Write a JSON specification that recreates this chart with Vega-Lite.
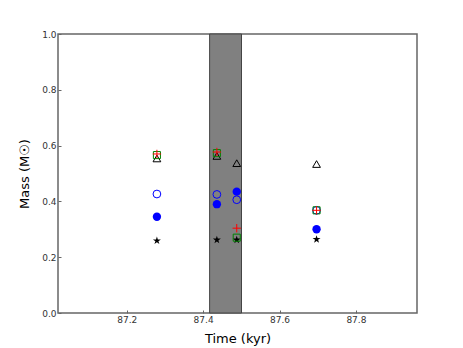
{
  "$schema": "https://vega.github.io/schema/vega-lite/v6.json",
  "width": 359,
  "height": 279,
  "autosize": {"type": "none"},
  "padding": {"left": 58, "top": 34, "right": 46, "bottom": 35},
  "background": "white",
  "config": {
    "font": "DejaVu Sans",
    "view": {"stroke": "#666", "strokeWidth": 1.5},
    "axis": {
      "domain": false,
      "grid": false,
      "tickColor": "#666",
      "tickSize": -3,
      "labelFont": "DejaVu Sans",
      "labelFontSize": 9,
      "labelColor": "#333",
      "titleFont": "DejaVu Sans",
      "titleFontSize": 13,
      "titleFontWeight": "normal",
      "titleColor": "#000"
    }
  },
  "datasets": {
    "band": [{"t0": 87.417, "t1": 87.5005, "m0": 0, "m1": 1}],
    "pts": [
      {"series": "star", "t": 87.279, "mass": 0.259},
      {"series": "star", "t": 87.436, "mass": 0.262},
      {"series": "star", "t": 87.488, "mass": 0.262},
      {"series": "star", "t": 87.697, "mass": 0.264},
      {"series": "filled", "t": 87.279, "mass": 0.345},
      {"series": "filled", "t": 87.436, "mass": 0.39},
      {"series": "filled", "t": 87.488, "mass": 0.435},
      {"series": "filled", "t": 87.697, "mass": 0.30},
      {"series": "open", "t": 87.279, "mass": 0.4265},
      {"series": "open", "t": 87.436, "mass": 0.425},
      {"series": "open", "t": 87.488, "mass": 0.406},
      {"series": "open", "t": 87.697, "mass": 0.368},
      {"series": "triangle", "t": 87.279, "mass": 0.554},
      {"series": "triangle", "t": 87.436, "mass": 0.563},
      {"series": "triangle", "t": 87.488, "mass": 0.537},
      {"series": "triangle", "t": 87.697, "mass": 0.534},
      {"series": "square", "t": 87.279, "mass": 0.566},
      {"series": "square", "t": 87.436, "mass": 0.573},
      {"series": "square", "t": 87.488, "mass": 0.27},
      {"series": "square", "t": 87.697, "mass": 0.368},
      {"series": "plus", "t": 87.279, "mass": 0.57},
      {"series": "plus", "t": 87.436, "mass": 0.577},
      {"series": "plus", "t": 87.488, "mass": 0.304},
      {"series": "plus", "t": 87.697, "mass": 0.368}
    ]
  },
  "layer": [
    {
      "data": {"name": "band"},
      "mark": {"type": "rect", "fill": "#808080", "stroke": "#444", "strokeWidth": 1},
      "encoding": {
        "x": {"field": "t0", "type": "quantitative", "scale": {"domain": [87.02, 87.96], "zero": false, "nice": false}, "title": "Time (kyr)",
              "axis": {"values": [87.2, 87.4, 87.6, 87.8], "format": ".1f", "labelPadding": 5, "titlePadding": 8}},
        "x2": {"field": "t1"},
        "y": {"field": "m0", "type": "quantitative", "scale": {"domain": [0, 1], "nice": false}, "title": "Mass (M☉)",
              "axis": {"values": [0, 0.2, 0.4, 0.6, 0.8, 1.0], "format": ".1f", "labelPadding": 5, "titlePadding": 10}},
        "y2": {"field": "m1"}
      }
    },
    {
      "data": {"name": "pts"},
      "transform": [{"filter": "datum.series === 'star'"}],
      "mark": {"type": "point", "filled": true, "color": "black", "opacity": 1, "size": 70,
               "shape": "M0,-1L0.225,-0.309L0.951,-0.309L0.363,0.118L0.588,0.809L0,0.382L-0.588,0.809L-0.363,0.118L-0.951,-0.309L-0.225,-0.309Z"},
      "encoding": {
        "x": {"field": "t", "type": "quantitative", "title": "Time (kyr)"},
        "y": {"field": "mass", "type": "quantitative", "title": "Mass (M☉)"}
      }
    },
    {
      "data": {"name": "pts"},
      "transform": [{"filter": "datum.series === 'filled'"}],
      "mark": {"type": "point", "filled": true, "color": "#0000ff", "opacity": 1, "size": 70, "shape": "circle"},
      "encoding": {
        "x": {"field": "t", "type": "quantitative", "title": "Time (kyr)"},
        "y": {"field": "mass", "type": "quantitative", "title": "Mass (M☉)"}
      }
    },
    {
      "data": {"name": "pts"},
      "transform": [{"filter": "datum.series === 'open'"}],
      "mark": {"type": "point", "filled": false, "color": "#0000ff", "opacity": 1, "size": 60, "shape": "circle", "strokeWidth": 1},
      "encoding": {
        "x": {"field": "t", "type": "quantitative", "title": "Time (kyr)"},
        "y": {"field": "mass", "type": "quantitative", "title": "Mass (M☉)"}
      }
    },
    {
      "data": {"name": "pts"},
      "transform": [{"filter": "datum.series === 'triangle'"}],
      "mark": {"type": "point", "filled": false, "color": "#000", "opacity": 1, "size": 60, "shape": "triangle-up", "strokeWidth": 1},
      "encoding": {
        "x": {"field": "t", "type": "quantitative", "title": "Time (kyr)"},
        "y": {"field": "mass", "type": "quantitative", "title": "Mass (M☉)"}
      }
    },
    {
      "data": {"name": "pts"},
      "transform": [{"filter": "datum.series === 'square'"}],
      "mark": {"type": "point", "filled": false, "color": "#008000", "opacity": 1, "size": 50, "shape": "square", "strokeWidth": 1},
      "encoding": {
        "x": {"field": "t", "type": "quantitative", "title": "Time (kyr)"},
        "y": {"field": "mass", "type": "quantitative", "title": "Mass (M☉)"}
      }
    },
    {
      "data": {"name": "pts"},
      "transform": [{"filter": "datum.series === 'plus'"}],
      "mark": {"type": "point", "filled": false, "color": "#ff0000", "opacity": 1, "size": 70, "shape": "M-1,0H1M0,-1V1", "strokeWidth": 1},
      "encoding": {
        "x": {"field": "t", "type": "quantitative", "title": "Time (kyr)"},
        "y": {"field": "mass", "type": "quantitative", "title": "Mass (M☉)"}
      }
    }
  ]
}
